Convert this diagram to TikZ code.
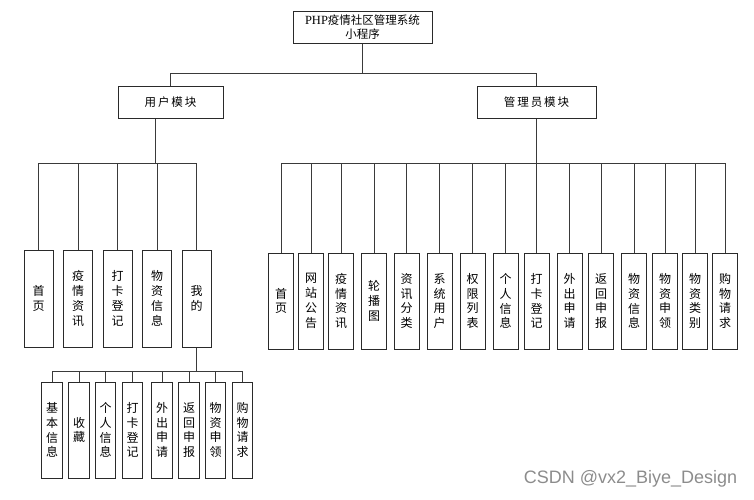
\documentclass[tikz,border=0pt]{standalone}
\usepackage{fontspec}
\newfontfamily\cjk{Noto Sans CJK SC}
\newfontfamily\latinserif{Liberation Serif}
\newfontfamily\wmfont{Liberation Sans}
\definecolor{edge}{HTML}{3A3A3A}
\definecolor{frame}{HTML}{2A2A2A}
\tikzset{
  box/.style={draw=frame, line width=1pt, fill=white, inner sep=0pt, align=center},
  topbox/.style={box, minimum width=139pt, minimum height=32pt, font=\cjk\fontsize{11.5}{14}\selectfont},
  modbox/.style={box, minimum height=32pt, font=\cjk\fontsize{11.5}{14}\selectfont},
  ubox/.style={box, minimum width=29pt, minimum height=97pt, font=\cjk\fontsize{12}{14.8}\selectfont},
  abox/.style={box, minimum width=25pt, minimum height=96pt, font=\cjk\fontsize{12}{14.8}\selectfont},
  sbox/.style={box, minimum width=20.5pt, minimum height=96pt, font=\cjk\fontsize{12}{14.8}\selectfont},
  link/.style={draw=edge, line width=0.8pt},
}
\begin{document}
\begin{tikzpicture}[x=1pt, y=-1pt]
\useasboundingbox (0,0) rectangle (754,499);

% root and the two modules
\node[topbox] (root) at (362.5,27) {{\latinserif\fontsize{12.5}{14}\selectfont PHP}疫情社区管理系统\\小程序};
\node[modbox, minimum width=105pt] (user) at (170.5,102) {用\,户\,模\,块};
\node[modbox, minimum width=119pt] (admin) at (536.5,102) {管\,理\,员\,模\,块};

\coordinate (bus0) at (0,73);
\draw[link] (root.south) -- (root.south |- bus0);
\draw[link] (user.north) -- (user.north |- bus0) -- (admin.north |- bus0) -- (admin.north);

% user module pages
\node[ubox] (u1) at (38.5,298.5) {首\\页};
\node[ubox] (u2) at (78,298.5) {疫\\情\\资\\讯};
\node[ubox] (u3) at (117.5,298.5) {打\\卡\\登\\记};
\node[ubox] (u4) at (157,298.5) {物\\资\\信\\息};
\node[ubox] (u5) at (196.5,298.5) {我\\的};

% the user module's stem leaves left of its centre
\coordinate (ubus) at (155,163);
\draw[link] (ubus |- user.south) -- (ubus);
\draw[link] (u1.north |- ubus) -- (u5.north |- ubus);
\foreach \i in {1,...,5} \draw[link] (u\i.north) -- (u\i.north |- ubus);

% items under "mine"
\node[sbox] (s1) at (52,430) {基\\本\\信\\息};
\node[sbox] (s2) at (79,430) {收\\藏};
\node[sbox] (s3) at (105.5,430) {个\\人\\信\\息};
\node[sbox] (s4) at (132.5,430) {打\\卡\\登\\记};
\node[sbox] (s5) at (162,430) {外\\出\\申\\请};
\node[sbox] (s6) at (189,430) {返\\回\\申\\报};
\node[sbox] (s7) at (215.5,430) {物\\资\\申\\领};
\node[sbox] (s8) at (242.5,430) {购\\物\\请\\求};

\coordinate (sbus) at (0,371);
\draw[link] (u5.south) -- (u5.south |- sbus);
\draw[link] (s1.north |- sbus) -- (s8.north |- sbus);
\foreach \i in {1,...,8} \draw[link] (s\i.north) -- (s\i.north |- sbus);

% admin module pages
\node[abox] (a1) at (281,301) {首\\页};
\node[abox] (a2) at (311,301) {网\\站\\公\\告};
\node[abox] (a3) at (341,301) {疫\\情\\资\\讯};
\node[abox] (a4) at (374,301) {轮\\播\\图};
\node[abox] (a5) at (406.5,301) {资\\讯\\分\\类};
\node[abox] (a6) at (439.5,301) {系\\统\\用\\户};
\node[abox] (a7) at (472.5,301) {权\\限\\列\\表};
\node[abox] (a8) at (505.5,301) {个\\人\\信\\息};
\node[abox] (a9) at (536.5,301) {打\\卡\\登\\记};
\node[abox] (a10) at (569.5,301) {外\\出\\申\\请};
\node[abox] (a11) at (601,301) {返\\回\\申\\报};
\node[abox] (a12) at (634,301) {物\\资\\信\\息};
\node[abox] (a13) at (665,301) {物\\资\\申\\领};
\node[abox] (a14) at (695,301) {物\\资\\类\\别};
\node[abox] (a15) at (725,301) {购\\物\\请\\求};

\coordinate (abus) at (0,163);
\draw[link] (admin.south) -- (admin.south |- abus);
\draw[link] (a1.north |- abus) -- (a15.north |- abus);
\foreach \i in {1,...,15} \draw[link] (a\i.north) -- (a\i.north |- abus);

% watermark
\node[text=black!45, font=\wmfont\fontsize{18}{20}\selectfont, anchor=center, inner sep=0pt] (wm) at (630.5,479) {CSDN @vx2\_Biye\_Design};
\end{tikzpicture}
\end{document}
